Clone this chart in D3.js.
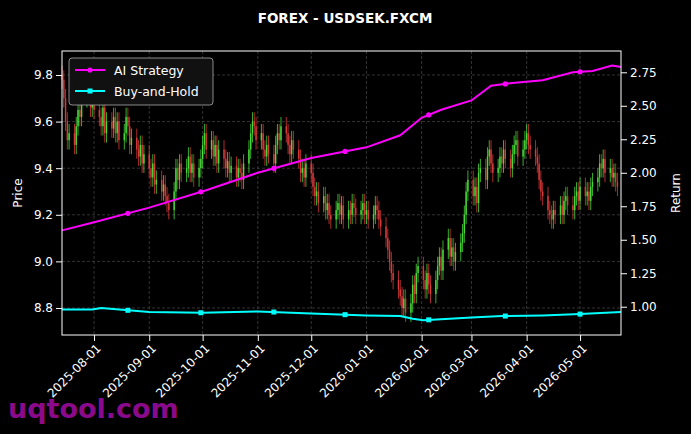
<!DOCTYPE html>
<html><head><meta charset="utf-8">
<script src="https://cdn.jsdelivr.net/npm/d3@7"></script>
<style>body{margin:0;background:#000;}svg{display:block;font-family:"DejaVu Sans",sans-serif;}</style>
</head><body><div id="chart"></div>
<script>
// daily closes, business days from 2025-07-14
const closes = [
9.78,9.70,9.60,9.52,9.55, 9.50,9.58,9.65,9.62,9.70, 9.75,9.80,9.66,9.72,9.65,
9.62,9.58,9.66,9.55,9.60, 9.57,9.62,9.55,9.60,9.52, 9.55,9.62,9.58,9.50,9.53,
9.48,9.45,9.50,9.42,9.46, 9.40,9.36,9.42,9.33,9.35, 9.30,9.33,9.28,9.25,9.22,
9.30,9.40,9.35,9.42,9.38, 9.40,9.45,9.38,9.42,9.36, 9.40,9.44,9.50,9.55,9.48,
9.52,9.45,9.50,9.42,9.48, 9.44,9.40,9.43,9.38,9.41, 9.36,9.40,9.38,9.35,9.42,
9.48,9.55,9.60,9.58,9.52, 9.55,9.48,9.45,9.50,9.46, 9.42,9.50,9.55,9.52,9.58,
9.55,9.50,9.46,9.52,9.48, 9.44,9.38,9.40,9.36,9.42, 9.38,9.32,9.28,9.30,9.25,
9.28,9.22,9.25,9.20,9.18, 9.22,9.25,9.20,9.24,9.18, 9.22,9.20,9.25,9.23,9.20,
9.22,9.25,9.20,9.22,9.18, 9.20,9.24,9.22,9.18,9.15, 9.10,9.05,9.00,8.95,8.92,
8.88,8.85,8.80,8.84,8.78, 8.82,8.90,8.86,8.95,8.98, 8.92,8.88,8.95,8.90,8.86,
8.92,8.98,9.02,8.96,9.05, 9.10,9.02,9.06,9.00,9.04, 9.08,9.12,9.20,9.30,9.35,
9.28,9.32,9.25,9.38,9.40, 9.35,9.45,9.48,9.42,9.38, 9.40,9.45,9.42,9.48,9.44,
9.40,9.46,9.50,9.52,9.45, 9.48,9.52,9.55,9.50,9.48, 9.45,9.42,9.35,9.30,9.28,
9.22,9.20,9.18,9.22,9.20, 9.24,9.20,9.26,9.28,9.24, 9.22,9.28,9.30,9.26,9.32,
9.28,9.30,9.26,9.32,9.34, 9.36,9.42,9.40,9.44,9.38, 9.40,9.36,9.38,9.34,9.32
];
const firstDay = "2025-07-14";
const aiDates = ["2025-07-14","2025-08-01","2025-09-01","2025-10-03","2025-11-01","2025-12-01","2026-01-01","2026-01-20","2026-02-01","2026-02-12","2026-03-01","2026-03-12","2026-03-24","2026-04-10","2026-04-27","2026-05-08","2026-05-19","2026-05-24"];
const aiValues = [1.57,1.63,1.74,1.87,2.00,2.11,2.19,2.28,2.41,2.47,2.54,2.65,2.67,2.69,2.75,2.76,2.80,2.79];
const aiMarks = ["2025-08-20","2025-09-30","2025-11-10","2025-12-20","2026-02-05","2026-03-20","2026-05-01"];
const bhDates = ["2025-07-14","2025-07-31","2025-08-05","2025-09-01","2025-10-01","2025-11-01","2025-12-01","2026-01-01","2026-01-20","2026-01-27","2026-02-02","2026-03-01","2026-03-18","2026-04-10","2026-05-01","2026-05-24"];
const bhValues = [0.98,0.98,0.99,0.96,0.955,0.965,0.95,0.935,0.93,0.91,0.90,0.92,0.93,0.935,0.945,0.96];
const bhMarks = ["2025-08-20","2025-09-30","2025-11-10","2025-12-20","2026-02-05","2026-03-20","2026-05-01"];
const xTicks = ["2025-08-01","2025-09-01","2025-10-01","2025-11-01","2025-12-01","2026-01-01","2026-02-01","2026-03-01","2026-04-01","2026-05-01"];
const priceTicks = [8.8,9.0,9.2,9.4,9.6,9.8];
const returnTicks = [1.00,1.25,1.50,1.75,2.00,2.25,2.50,2.75];

const W = 691, H = 434, m = {l: 62, r: 70, t: 51, b: 99};
const parse = d3.utcParse("%Y-%m-%d");
const days = [];
for (let d = parse(firstDay); days.length < closes.length; d = d3.utcDay.offset(d, 1)) {
    if (d.getUTCDay() !== 0 && d.getUTCDay() !== 6) days.push(d);
}
const candles = closes.map((c, i) => {
    const o = i === 0 ? c + 0.02 : closes[i - 1];
    return {date: days[i], o: o, c: c, h: Math.max(o, c) + 0.04, l: Math.min(o, c) - 0.04};
});

const svg = d3.select("#chart").append("svg").attr("width", W).attr("height", H);
svg.append("rect").attr("width", W).attr("height", H).attr("fill", "#000");

const x = d3.scaleUtc().domain([parse("2025-07-14"), parse("2026-05-24")]).range([m.l, W - m.r]);
const y = d3.scaleLinear().domain([8.684, 9.903]).range([H - m.b, m.t]);
const y2 = d3.scaleLinear().domain([0.789, 2.909]).range([H - m.b, m.t]);

const g = svg.append("g");
// grid
g.selectAll(".gx").data(xTicks).join("line")
    .attr("x1", d => x(parse(d))).attr("x2", d => x(parse(d)))
    .attr("y1", m.t).attr("y2", H - m.b)
    .attr("stroke", "#555").attr("stroke-dasharray", "3,2").attr("stroke-width", 0.6);
g.selectAll(".gy").data(priceTicks).join("line")
    .attr("x1", m.l).attr("x2", W - m.r)
    .attr("y1", d => y(d)).attr("y2", d => y(d))
    .attr("stroke", "#555").attr("stroke-dasharray", "3,2").attr("stroke-width", 0.6);

// candles
const cg = svg.append("g").attr("opacity", 0.85);
cg.selectAll("line").data(candles).join("line")
    .attr("x1", d => x(d.date)).attr("x2", d => x(d.date))
    .attr("y1", d => y(d.h)).attr("y2", d => y(d.l))
    .attr("stroke", d => d.c >= d.o ? "#55ff44" : "#ff4444").attr("stroke-width", 0.8);
cg.selectAll("rect").data(candles).join("rect")
    .attr("x", d => x(d.date) - 0.7).attr("width", 1.4)
    .attr("y", d => y(Math.max(d.o, d.c)))
    .attr("height", d => Math.max(0.8, Math.abs(y(d.o) - y(d.c))))
    .attr("fill", d => d.c >= d.o ? "#55ff44" : "#ff4444");

// return lines
function drawLine(dates, vals, marks, color, marker) {
    const pts = dates.map((d, i) => [x(parse(d)), y2(vals[i])]);
    svg.append("path").attr("d", d3.line()(pts)).attr("fill", "none")
        .attr("stroke", color).attr("stroke-width", 2);
    const interp = d => {
        const t = parse(d);
        const i = d3.bisector(p => parse(p)).right(dates, t) - 1;
        const t0 = parse(dates[i]), t1 = parse(dates[i + 1]);
        return vals[i] + (vals[i + 1] - vals[i]) * (t - t0) / (t1 - t0);
    };
    const mk = marks.map(d => [x(parse(d)), y2(interp(d))]);
    if (marker === "circle") {
        svg.selectAll(null).data(mk).join("circle").attr("cx", d => d[0]).attr("cy", d => d[1])
            .attr("r", 2.6).attr("fill", color);
    } else {
        svg.selectAll(null).data(mk).join("rect").attr("x", d => d[0] - 2.5).attr("y", d => d[1] - 2.5)
            .attr("width", 5).attr("height", 5).attr("fill", color);
    }
}
drawLine(aiDates, aiValues, aiMarks, "#ff00ff", "circle");
drawLine(bhDates, bhValues, bhMarks, "#00ffff", "square");

// frame
svg.append("rect").attr("x", m.l).attr("y", m.t).attr("width", W - m.r - m.l).attr("height", H - m.b - m.t)
    .attr("fill", "none").attr("stroke", "#fff").attr("stroke-width", 1);

// axes
const ax = svg.append("g").attr("transform", `translate(0,${H - m.b})`)
    .call(d3.axisBottom(x).tickValues(xTicks.map(parse)).tickFormat(d3.utcFormat("%Y-%m-%d")).tickSizeOuter(0));
ax.selectAll("text").attr("transform", "rotate(-45)").attr("text-anchor", "end")
    .attr("dx", "-0.4em").attr("dy", "0.5em").attr("font-size", 12);
const ayl = svg.append("g").attr("transform", `translate(${m.l},0)`)
    .call(d3.axisLeft(y).tickValues(priceTicks).tickFormat(d3.format(".1f")).tickSizeOuter(0));
ayl.selectAll("text").attr("font-size", 12);
const ayr = svg.append("g").attr("transform", `translate(${W - m.r},0)`)
    .call(d3.axisRight(y2).tickValues(returnTicks).tickFormat(d3.format(".2f")).tickSizeOuter(0));
ayr.selectAll("text").attr("font-size", 12);
[ax, ayl, ayr].forEach(a => {
    a.select(".domain").remove();
    a.selectAll("line").attr("stroke", "#fff");
    a.selectAll("text").attr("fill", "#fff").attr("font-family", "DejaVu Sans");
});

svg.append("text").attr("x", 345).attr("y", 23).attr("text-anchor", "middle").attr("fill", "#fff")
    .attr("font-weight", "bold").attr("font-size", 13.5).text("FOREX - USDSEK.FXCM");
svg.append("text").attr("transform", `translate(22,${(m.t + H - m.b) / 2}) rotate(-90)`)
    .attr("text-anchor", "middle").attr("fill", "#fff").attr("font-size", 12).text("Price");
svg.append("text").attr("transform", `translate(680,${(m.t + H - m.b) / 2}) rotate(-90)`)
    .attr("text-anchor", "middle").attr("fill", "#fff").attr("font-size", 12).text("Return");

// legend
const lg = svg.append("g").attr("transform", "translate(69,58)");
lg.append("rect").attr("width", 144).attr("height", 47).attr("rx", 3)
    .attr("fill", "#111").attr("stroke", "#aaa").attr("stroke-width", 0.8);
[["AI Strategy", "#ff00ff", "circle"], ["Buy-and-Hold", "#00ffff", "square"]].forEach((d, i) => {
    const yy = 12 + i * 21;
    lg.append("line").attr("x1", 6).attr("x2", 36).attr("y1", yy).attr("y2", yy).attr("stroke", d[1]).attr("stroke-width", 2);
    if (d[2] === "circle") lg.append("circle").attr("cx", 21).attr("cy", yy).attr("r", 2.6).attr("fill", d[1]);
    else lg.append("rect").attr("x", 18.5).attr("y", yy - 2.5).attr("width", 5).attr("height", 5).attr("fill", d[1]);
    lg.append("text").attr("x", 45).attr("y", yy + 4.5).attr("fill", "#fff").attr("font-size", 12.5).text(d[0]);
});

svg.append("text").attr("x", 8).attr("y", 418).attr("fill", "#8b0a8b").attr("font-weight", "bold")
    .attr("font-size", 27).attr("font-family", "DejaVu Sans").text("uqtool.com");
</script></body></html>
